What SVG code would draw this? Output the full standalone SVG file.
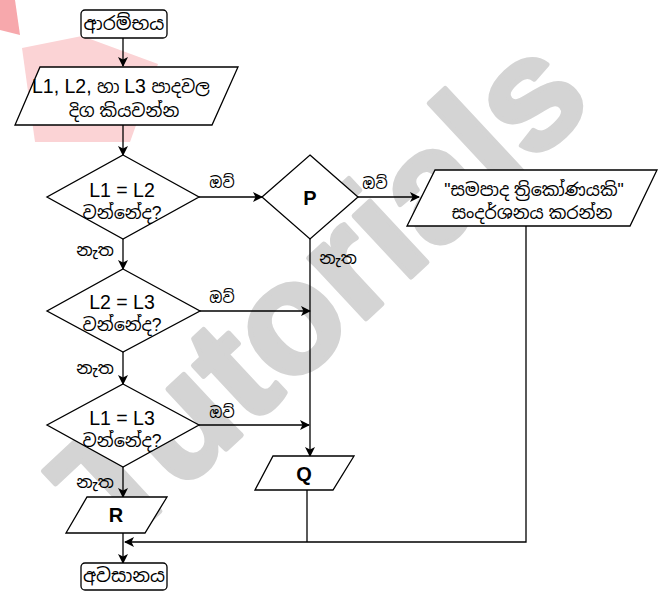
<svg xmlns="http://www.w3.org/2000/svg" width="659" height="592" viewBox="0 0 659 592">
<style>
.shape{fill:#fff;stroke:#000;stroke-width:1.3}
.t{font-family:"Liberation Sans","Noto Sans Sinhala","Noto Sans",sans-serif;font-size:17.5px;fill:#000;text-anchor:middle}
.lat{font-size:19.5px}
.b{font-weight:bold;font-size:20px}
.lbl{font-family:"Liberation Sans","Noto Sans Sinhala","Noto Sans",sans-serif;font-size:15px;fill:#000;text-anchor:middle}
.no{font-size:17px}
.c{fill:none;stroke:#000;stroke-width:1.3}
.wm{font-family:"Liberation Sans",Arial,sans-serif;font-weight:bold;font-size:158px;fill:#d4d4d4;stroke:#d4d4d4;stroke-width:5;stroke-linejoin:round}
</style>
<defs>
<marker id="ah" markerWidth="10" markerHeight="10" refX="9" refY="5" orient="auto" markerUnits="userSpaceOnUse">
<path d="M0,0 L10,5 L0,10 L2.5,5 Z" fill="#000"/>
</marker>
</defs>
<rect width="659" height="592" fill="#fff"/>
<g id="watermark">
<polygon points="0,0 15,0 20,35 0,30" fill="#f7a8ac"/>
<polygon points="22,48 82,36 158,64 130,142 35,142" fill="#fbd3d5"/>
<text class="wm" x="326" y="340" text-anchor="middle" transform="rotate(-43 326 296)">Tutorials</text>
</g>
<g id="connectors">
<line class="c" x1="123" y1="38" x2="123" y2="66" marker-end="url(#ah)"/>
<line class="c" x1="123" y1="125" x2="123" y2="155" marker-end="url(#ah)"/>
<line class="c" x1="199" y1="197" x2="262" y2="197" marker-end="url(#ah)"/>
<line class="c" x1="358" y1="197" x2="419" y2="197" marker-end="url(#ah)"/>
<line class="c" x1="123" y1="239" x2="123" y2="269" marker-end="url(#ah)"/>
<line class="c" x1="200" y1="311" x2="310" y2="311" marker-end="url(#ah)"/>
<line class="c" x1="123" y1="352" x2="123" y2="384" marker-end="url(#ah)"/>
<line class="c" x1="199" y1="425" x2="309" y2="425" marker-end="url(#ah)"/>
<line class="c" x1="310" y1="239" x2="310" y2="456" marker-end="url(#ah)"/>
<line class="c" x1="123" y1="467" x2="123" y2="497" marker-end="url(#ah)"/>
<line class="c" x1="123" y1="533" x2="123" y2="563" marker-end="url(#ah)"/>
<polyline class="c" points="526,226 526,542 125,542" marker-end="url(#ah)"/>
<line class="c" x1="307" y1="490" x2="307" y2="542"/>
<text class="lbl" x="222" y="188">ඔව්</text>
<text class="lbl" x="375" y="189">ඔව්</text>
<text class="lbl" x="222" y="303">ඔව්</text>
<text class="lbl" x="222" y="418">ඔව්</text>
<text class="lbl no" x="95" y="256">නැත</text>
<text class="lbl no" x="95" y="374">නැත</text>
<text class="lbl no" x="95" y="488">නැත</text>
<text class="lbl no" x="338" y="264">නැත</text>
</g>
<g id="start">
<rect class="shape" x="81" y="10" width="86" height="28" rx="4"/>
<text class="t" x="124" y="30" style="font-size:18.5px">ආරම්භය</text>
</g>
<g id="input">
<polygon class="shape" points="40,67 238,67 212,125 15,125"/>
<text class="t" x="121" y="93"><tspan class="lat">L1, L2, </tspan>හා <tspan class="lat">L3 </tspan>පාදවල</text>
<text class="t" x="124" y="117">දිග කියවන්න</text>
</g>
<g id="d1">
<polygon class="shape" points="123,155 199,197 123,239 47,197"/>
<text class="t lat" x="122" y="197">L1 = L2</text>
<text class="t" x="122" y="219">වන්නේද?</text>
</g>
<g id="p">
<polygon class="shape" points="310,155 358,197 310,239 262,197"/>
<text class="t b" x="310" y="205">P</text>
</g>
<g id="display">
<polygon class="shape" points="435,170 657,170 630,226 407,226"/>
<text class="t" x="534" y="196">"සමපාද ත්‍රිකෝණයකි"</text>
<text class="t" x="532" y="219">සංදර්ශනය කරන්න</text>
</g>
<g id="d2">
<polygon class="shape" points="123,269 200,311 123,352 47,311"/>
<text class="t lat" x="122" y="309">L2 = L3</text>
<text class="t" x="122" y="331">වන්නේද?</text>
</g>
<g id="d3">
<polygon class="shape" points="123,384 199,425 123,467 47,425"/>
<text class="t lat" x="122" y="425">L1 = L3</text>
<text class="t" x="122" y="447">වන්නේද?</text>
</g>
<g id="q">
<polygon class="shape" points="273,456 354,456 333,490 255,490"/>
<text class="t b" x="304" y="481">Q</text>
</g>
<g id="r">
<polygon class="shape" points="87,497 167,497 145,533 66,533"/>
<text class="t b" x="116" y="522">R</text>
</g>
<g id="end">
<rect class="shape" x="81" y="563" width="86" height="27" rx="4"/>
<text class="t" x="124" y="582" style="font-size:18.5px">අවසානය</text>
</g>
</svg>
